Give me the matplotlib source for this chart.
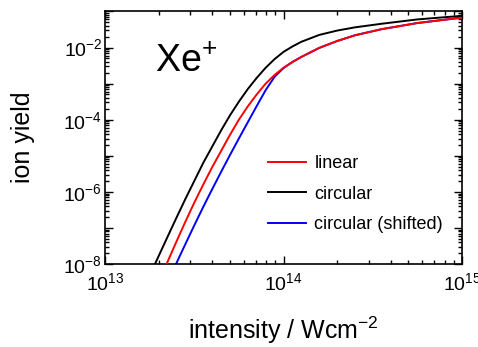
import matplotlib
matplotlib.use("Agg")
import matplotlib.pyplot as plt
from matplotlib.ticker import LogLocator, FuncFormatter, NullFormatter
import numpy as np

plt.rcParams['font.family'] = ['Liberation Sans', 'DejaVu Sans']
plt.rcParams['mathtext.fontset'] = 'custom'
plt.rcParams['mathtext.rm'] = 'Liberation Sans'
plt.rcParams['mathtext.it'] = 'Liberation Sans:italic'
plt.rcParams['mathtext.bf'] = 'Liberation Sans:bold'
plt.rcParams['axes.unicode_minus'] = False

# log10(intensity / W cm^-2) and log10(ion yield)
black_logI = [13.28, 13.35, 13.40, 13.45, 13.50, 13.55, 13.60, 13.65, 13.70, 13.75,
              13.80, 13.85, 13.90, 13.95, 14.00, 14.05, 14.10, 14.20, 14.30, 14.40,
              14.55, 14.75, 15.00]
black_logY = [-8.00, -7.25, -6.72, -6.20, -5.70, -5.20, -4.75, -4.30, -3.88, -3.50,
              -3.15, -2.84, -2.56, -2.32, -2.12, -1.97, -1.84, -1.65, -1.53, -1.44,
              -1.34, -1.22, -1.12]

red_logI = [13.345, 13.40, 13.45, 13.50, 13.55, 13.60, 13.65, 13.70, 13.75, 13.80,
            13.85, 13.90, 13.95, 14.00, 14.05, 14.10, 14.20, 14.30, 14.40, 14.55,
            14.75, 15.00]
red_logY = [-8.00, -7.38, -6.83, -6.30, -5.80, -5.32, -4.87, -4.42, -4.00, -3.63,
            -3.30, -3.00, -2.76, -2.56, -2.40, -2.26, -2.01, -1.82, -1.66, -1.49,
            -1.32, -1.17]

blue_logI = [13.398, 13.45, 13.50, 13.55, 13.60, 13.65, 13.70, 13.75, 13.80, 13.85,
             13.90, 13.95, 14.00, 14.05, 14.10, 14.20, 14.30, 14.40, 14.55, 14.75,
             15.00]
blue_logY = [-8.00, -7.45, -6.93, -6.42, -5.93, -5.45, -4.98, -4.52, -4.07, -3.62,
             -3.18, -2.81, -2.57, -2.40, -2.26, -2.01, -1.82, -1.66, -1.49, -1.32,
             -1.17]

labels = ["linear", "circular", "circular (shifted)"]
colors = ["#ff0000", "#000000", "#0000ff"]

fig = plt.figure(figsize=(4.78, 3.47), dpi=100)
ax = fig.add_axes([0.2197, 0.2392, 0.9665 - 0.2197, 0.9669 - 0.2392])

lb, = ax.plot(10 ** np.array(blue_logI), 10 ** np.array(blue_logY), color=colors[2], lw=1.4, zorder=2)
lr, = ax.plot(10 ** np.array(red_logI), 10 ** np.array(red_logY), color=colors[0], lw=1.4, zorder=3)
lk, = ax.plot(10 ** np.array(black_logI), 10 ** np.array(black_logY), color=colors[1], lw=1.4, zorder=4)

ax.set_xscale('log')
ax.set_yscale('log')
ax.set_xlim(1e13, 1e15)
ax.set_ylim(1e-8, 1e-1)

ax.xaxis.set_major_locator(LogLocator(base=10, numticks=10))
ax.xaxis.set_minor_locator(LogLocator(base=10, subs=np.arange(2, 10), numticks=20))
ax.yaxis.set_major_locator(LogLocator(base=10, numticks=20))
ax.yaxis.set_minor_locator(LogLocator(base=10, subs=np.arange(2, 10), numticks=20))

def xfmt(v, pos):
    e = int(round(np.log10(v)))
    return r"$10^{%d}$" % e

def yfmt(v, pos):
    e = int(round(np.log10(v)))
    if e % 2 != 0:
        return ""
    return r"$10^{%d}$" % e

ax.xaxis.set_major_formatter(FuncFormatter(xfmt))
ax.yaxis.set_major_formatter(FuncFormatter(yfmt))
ax.xaxis.set_minor_formatter(NullFormatter())
ax.yaxis.set_minor_formatter(NullFormatter())

ax.tick_params(which='both', direction='in', top=True, right=True, labelsize=14, width=1.0)
ax.tick_params(which='major', length=6)
ax.tick_params(which='minor', length=3)
ax.tick_params(axis='x', which='major', pad=6)
ax.tick_params(axis='y', which='major', pad=2)
for s in ax.spines.values():
    s.set_linewidth(1.2)

ax.set_xlabel(r"intensity / Wcm$^{-2}$", fontsize=18, labelpad=15)
ax.set_ylabel("ion yield", fontsize=18, labelpad=20)

ax.text(0.14, 0.80, r"Xe$^{+}$", transform=ax.transAxes, fontsize=27, va='center', ha='left')

ax.legend([lr, lk, lb], labels, loc='lower left', bbox_to_anchor=(0.412, 0.057),
          frameon=False, fontsize=13, handlelength=2.1, handletextpad=0.45,
          labelspacing=0.75)

fig.savefig("out.png", dpi=100)
